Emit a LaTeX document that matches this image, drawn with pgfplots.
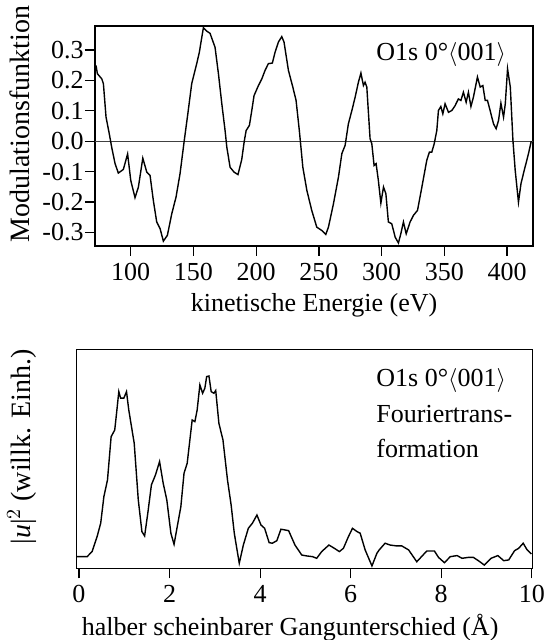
\documentclass[border=0pt]{standalone}
\usepackage{fontspec}
\setmainfont{Liberation Serif}
\usepackage{pgfplots}
\pgfplotsset{compat=1.18}
\newcommand\fsz{\fontsize{13}{16}\selectfont}
\newcommand\fszy{\fontsize{14}{17}\selectfont}

\pgfplotsset{
  common/.style={
    scale only axis,
    anchor=south west,
    axis line style={line width=0.6pt},
    tick style={line width=0.6pt, black},
    tick align=outside,
    tick pos=left,
    major tick length=5pt,
    ticklabel style={font=\fsz},
    label style={font=\fsz},
    ylabel style={font=\fszy},
    /pgf/number format/assume math mode=true,
  },
}

\begin{document}
\begin{tikzpicture}
\useasboundingbox (0,0) rectangle (276.5pt,320pt);

% oben: Modulationsfunktion
\begin{axis}[common,
    at={(47.5pt,197pt)},
    width=219pt, height=110pt,
    xmin=71.5, xmax=420.7,
    ymin=-0.345, ymax=0.379,
    xtick={100,150,200,250,300,350,400},
    ytick={-0.3,-0.2,-0.1,0,0.1,0.2,0.3},
    yticklabels={-0.3,-0.2,-0.1,0.0,0.1,0.2,0.3},
    yticklabel style={inner xsep=0.5pt},
    xlabel={kinetische Energie (eV)},
    xlabel style={at={(rel axis cs:0.5,-0.30)}, anchor=base},
    ylabel={Modulationsfunktion},
    ylabel style={at={(rel axis cs:-0.171,0.555)}, anchor=center},
  ]
\addplot[black!75, line width=0.6pt] coordinates {(60,0) (430,0)};
\addplot[black, line width=0.7pt] coordinates {
(72.3,0.249) (73.4,0.222) (76.9,0.205) (78.2,0.189) (80.3,0.079)
(82.9,0.024) (84.8,-0.020) (87.5,-0.074) (90.1,-0.105) (94.1,-0.093)
(97.5,-0.042) (100,-0.129) (103.4,-0.186) (106.1,-0.151) (109.6,-0.056)
(112.8,-0.102) (115.4,-0.113) (118,-0.195) (120.7,-0.266) (123.4,-0.288)
(126,-0.329) (129.2,-0.310) (132.7,-0.239) (136.1,-0.184) (139.3,-0.107)
(142.5,-0.003) (145.5,0.090) (148.6,0.189) (152.6,0.255) (154.7,0.293)
(157.9,0.373) (160.6,0.362) (163.2,0.355) (167.2,0.309) (169.9,0.222)
(172.6,0.123) (175.2,0.035) (176.6,-0.020) (179.2,-0.086) (182.4,-0.102)
(185.5,-0.110) (188.5,-0.060) (190.5,0.000) (192,0.035) (194.6,0.052)
(196.5,0.101) (198.3,0.150) (201.8,0.183) (204.5,0.205) (207.1,0.233)
(209.7,0.255) (212.9,0.257) (215.1,0.293) (217.7,0.326) (220.4,0.344)
(222.2,0.326) (225.7,0.233) (229.2,0.178) (231.8,0.134) (234.4,0.035)
(237.2,-0.086) (240.4,-0.162) (244.3,-0.228) (248.3,-0.283) (252.3,-0.294)
(255.5,-0.307) (257.6,-0.283) (261.6,-0.206) (265.6,-0.118) (268.3,-0.041)
(270.9,-0.014) (273.5,0.057) (276.3,0.101) (278.9,0.145) (281.5,0.194)
(283.5,0.224) (285.5,0.183) (286.8,0.194) (288.2,0.178) (290.8,0.008)
(292.2,-0.009) (294,-0.080) (295.6,-0.074) (297.4,-0.129) (299.4,-0.204)
(301.5,-0.151) (303.4,-0.173) (305.4,-0.266) (308.1,-0.272) (310.8,-0.316)
(313.4,-0.335) (315.3,-0.305) (317.4,-0.266) (319.6,-0.305) (322.7,-0.266)
(325.4,-0.244) (328.6,-0.228) (332.1,-0.151) (336,-0.063) (338.1,-0.036)
(340,-0.036) (341.9,-0.009) (344,0.035) (345.3,0.101) (347.2,0.114)
(348.8,0.090) (350.6,0.123) (353.3,0.095) (356,0.101) (358.6,0.117)
(361.2,0.139) (363.2,0.134) (365.2,0.161) (367.4,0.128) (369.2,0.161)
(371.2,0.114) (373.2,0.145) (376.4,0.211) (378.6,0.178) (380.7,0.183)
(382.6,0.134) (384.4,0.134) (386.5,0.101) (389.2,0.057) (391.3,0.041)
(393.2,0.068) (395.1,0.125) (397.2,0.079) (398.6,0.123) (400.4,0.238)
(402.6,0.178) (404.7,0.002) (406.5,-0.096) (409.1,-0.201) (411.1,-0.140)
(413.7,-0.096) (417.1,-0.041) (419.3,0.000)
};
\node[anchor=base west, font=\fsz, inner sep=0pt] at (rel axis cs:0.6416,0.841)
  {O1s 0°$\langle$001$\rangle$};
\end{axis}

% unten: Fouriertransformation
\begin{axis}[common,
    at={(38.35pt,35.85pt)},
    width=228pt, height=109.5pt,
    xmin=-0.05, xmax=10.02,
    ymin=-0.064, ymax=1.141,
    xtick={0,2,4,6,8,10},
    ytick=\empty,
    xlabel={halber scheinbarer Gangunterschied (Å)},
    xlabel style={at={(rel axis cs:0.468,-0.305)}, anchor=base},
    ylabel={|\textit{u}|$^2$ (willk. Einh.)},
    ylabel style={at={(rel axis cs:-0.12,0.555)}, anchor=center},
  ]
\addplot[black, line width=0.7pt] coordinates {
(-0.04,0) (0.18,0) (0.29,0.028) (0.40,0.11) (0.48,0.184) (0.55,0.33)
(0.63,0.422) (0.71,0.66) (0.79,0.697) (0.83,0.789) (0.88,0.908) (0.92,0.872)
(0.99,0.872) (1.05,0.908) (1.10,0.807) (1.22,0.624) (1.31,0.312) (1.39,0.138)
(1.45,0.114) (1.52,0.239) (1.60,0.395) (1.69,0.45) (1.78,0.523) (1.86,0.404)
(1.94,0.312) (2.03,0.129) (2.10,0.068) (2.17,0.165) (2.25,0.275) (2.32,0.459)
(2.39,0.514) (2.50,0.752) (2.56,0.743) (2.61,0.807) (2.67,0.945) (2.73,0.899)
(2.78,0.927) (2.82,0.991) (2.87,0.994) (2.92,0.908) (2.98,0.899) (3.02,0.914)
(3.09,0.734) (3.18,0.642) (3.28,0.422) (3.36,0.285) (3.43,0.129) (3.54,-0.036)
(3.63,0.064) (3.74,0.156) (3.83,0.184) (3.93,0.229) (4.02,0.174) (4.10,0.156)
(4.20,0.077) (4.27,0.074) (4.37,0.088) (4.46,0.151) (4.55,0.147) (4.63,0.143)
(4.77,0.064) (4.92,0.009) (5.03,0.004) (5.16,0) (5.25,-0.009) (5.36,0.028)
(5.52,0.064) (5.64,0.046) (5.75,0.028) (5.84,0.046) (5.95,0.11) (6.04,0.156)
(6.14,0.138) (6.21,0.129) (6.32,0.037) (6.47,-0.051) (6.58,0.019) (6.63,0.037)
(6.76,0.074) (6.87,0.064) (7.02,0.059) (7.13,0.059) (7.28,0.037) (7.46,-0.028)
(7.68,0.031) (7.85,0.031) (7.94,-0.004) (8.07,-0.033) (8.20,0) (8.35,0.006)
(8.46,-0.009) (8.60,-0.004) (8.71,-0.004) (8.82,-0.022) (8.95,-0.046) (9.10,-0.009)
(9.25,0.006) (9.38,-0.022) (9.49,-0.018) (9.62,0.033) (9.71,0.046) (9.81,0.074)
(9.89,0.040) (9.99,0.015)
};
\node[anchor=base west, font=\fsz, inner sep=0pt] at (rel axis cs:0.6564,0.828)
  {O1s 0°$\langle$001$\rangle$};
\node[anchor=base west, font=\fsz, inner sep=0pt] at (rel axis cs:0.6564,0.668)
  {Fouriertrans-};
\node[anchor=base west, font=\fsz, inner sep=0pt] at (rel axis cs:0.6564,0.508)
  {formation};
\end{axis}
\end{tikzpicture}
\end{document}
